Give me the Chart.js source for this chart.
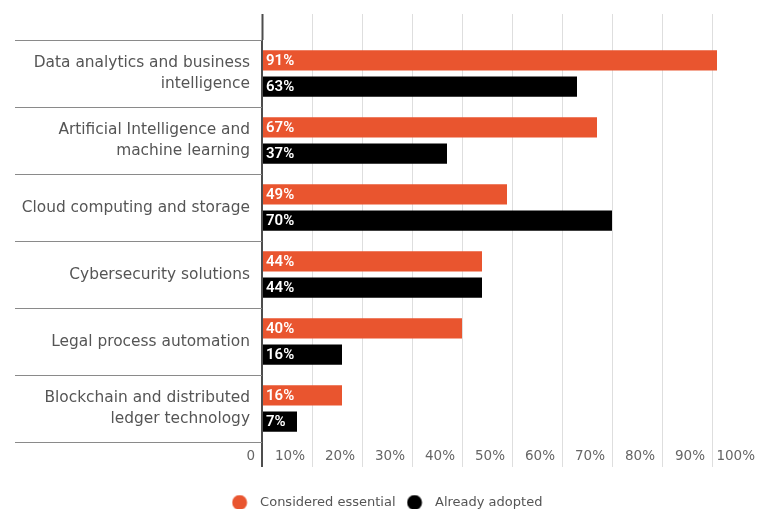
<!DOCTYPE html>
<html>
<head>
<meta charset="utf-8">
<script src="https://cdn.jsdelivr.net/npm/chart.js@4"></script>
<style>
  html, body { margin: 0; padding: 0; background: #fff; overflow: hidden; }
  #wrap { width: 758px; height: 509px; overflow: hidden; }
</style>
</head>
<body>
<div id="wrap"><canvas id="myChart" width="770" height="519"></canvas></div>
<script>
const categories = [
    ['Data analytics and business', 'intelligence'],
    ['Artificial Intelligence and', 'machine learning'],
    'Cloud computing and storage',
    'Cybersecurity solutions',
    'Legal process automation',
    ['Blockchain and distributed', 'ledger technology']
];
const essential = [91, 67, 49, 44, 40, 16];
const adopted = [63, 37, 70, 44, 16, 7];
const tickLabels = ['0', '10%', '20%', '30%', '40%', '50%', '60%', '70%', '80%', '90%', '100%'];

const ORANGE = '#e9552f';
const BLACK = '#000000';
const TEXT = '#555555';

Chart.defaults.font.family = 'DejaVu Sans';

// legend marker: a plain filled circle
function dot(color) {
    const c = document.createElement('canvas');
    c.width = 22;
    c.height = 16;
    const g = c.getContext('2d');
    g.fillStyle = color;
    g.beginPath();
    g.arc(8, 8, 7.5, 0, Math.PI * 2);
    g.fill();
    return c;
}

// value labels at the start of each bar
const barLabels = {
    id: 'barLabels',
    afterDatasetsDraw(chart) {
        const ctx = chart.ctx;
        ctx.save();
        ctx.fillStyle = '#ffffff';
        ctx.font = '600 15px Roboto';
        ctx.textAlign = 'left';
        ctx.textBaseline = 'middle';
        chart.data.datasets.forEach((ds, i) => {
            chart.getDatasetMeta(i).data.forEach((bar, j) => {
                ctx.fillText(ds.data[j] + '%', bar.base + 3, bar.y + 1);
            });
        });
        ctx.restore();
    }
};

const gridColor = (c) => (c.tick && c.tick.value === 0 ? '#4d4d4d' : '#dedede');
const gridWidth = (c) => (c.tick && c.tick.value === 0 ? 2 : 1);

const ctx = document.getElementById('myChart').getContext('2d');

const myChart = new Chart(ctx, {
    type: 'bar',
    data: {
        labels: categories,
        datasets: [{
            label: 'Considered essential',
            data: essential,
            backgroundColor: ORANGE,
            categoryPercentage: 0.78,
            barPercentage: 0.77
        }, {
            label: 'Already adopted',
            data: adopted,
            backgroundColor: BLACK,
            categoryPercentage: 0.78,
            barPercentage: 0.77
        }]
    },
    options: {
        indexAxis: 'y',
        responsive: false,
        animation: false,
        layout: { padding: { top: 14, right: 8, left: 12, bottom: 0 } },
        scales: {
            x: {
                position: 'bottom',
                min: 0,
                max: 100,
                border: { display: false },
                grid: { color: gridColor, lineWidth: gridWidth, tickLength: 25, tickColor: gridColor, tickWidth: gridWidth },
                ticks: {
                    stepSize: 10,
                    maxRotation: 0,
                    autoSkip: false,
                    align: 'end',
                    labelOffset: -7,
                    padding: -19,
                    color: '#666666',
                    font: { size: 13.5 },
                    callback: (v, i) => tickLabels[i]
                },
                afterFit: (s) => { s.height = 43; }
            },
            xTop: {
                type: 'linear',
                position: 'top',
                display: true,
                min: 0,
                max: 100,
                border: { display: false },
                grid: { drawOnChartArea: false, tickLength: 26, tickColor: gridColor, tickWidth: gridWidth },
                ticks: { stepSize: 10, display: false },
                afterFit: (s) => { s.height = 26; }
            },
            y: {
                border: { display: false },
                grid: { drawOnChartArea: false, color: '#8a8a8a', tickLength: 247, lineWidth: 1 },
                ticks: {
                    padding: -235,
                    color: TEXT,
                    font: { size: 15.4, lineHeight: 1.35 }
                },
                afterFit: (s) => { s.width = 250; }
            }
        },
        plugins: {
            tooltip: { enabled: false },
            legend: {
                position: 'bottom',
                labels: {
                    usePointStyle: true,
                    pointStyleWidth: 22,
                    boxHeight: 13,
                    padding: 11,
                    color: TEXT,
                    font: { size: 13 },
                    generateLabels: (chart) => {
                        const items = Chart.defaults.plugins.legend.labels.generateLabels(chart);
                        items.forEach((it, i) => { it.pointStyle = dot(i === 0 ? ORANGE : BLACK); });
                        return items;
                    }
                }
            }
        }
    },
    plugins: [barLabels]
});
</script>
</body>
</html>
